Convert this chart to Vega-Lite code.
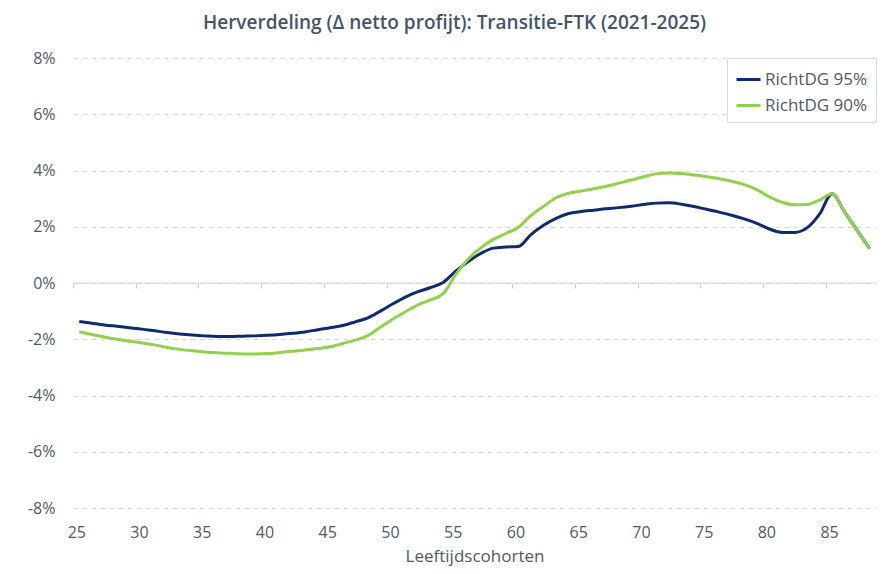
{
  "$schema": "https://vega.github.io/schema/vega-lite/v6.json",
  "width": 803,
  "height": 450,
  "autosize": {"type": "none"},
  "padding": {"left": 73, "top": 58, "right": 16, "bottom": 66},
  "background": "white",
  "config": {
    "font": "Open Sans",
    "view": {"stroke": null}
  },
  "title": {
    "text": "Herverdeling (Δ netto profijt): Transitie-FTK (2021-2025)",
    "fontSize": 19,
    "fontWeight": 600,
    "color": "#44546a",
    "anchor": "middle",
    "dx": -20,
    "offset": 17
  },
  "datasets": {
    "series": [
      {"age":25,"serie":"RichtDG 95%","v":-1.37},{"age":26,"serie":"RichtDG 95%","v":-1.43},{"age":27,"serie":"RichtDG 95%","v":-1.49},{"age":28,"serie":"RichtDG 95%","v":-1.54},{"age":29,"serie":"RichtDG 95%","v":-1.59},{"age":30,"serie":"RichtDG 95%","v":-1.64},{"age":31,"serie":"RichtDG 95%","v":-1.70},{"age":32,"serie":"RichtDG 95%","v":-1.76},{"age":33,"serie":"RichtDG 95%","v":-1.81},{"age":34,"serie":"RichtDG 95%","v":-1.85},{"age":35,"serie":"RichtDG 95%","v":-1.88},{"age":36,"serie":"RichtDG 95%","v":-1.90},{"age":37,"serie":"RichtDG 95%","v":-1.90},{"age":38,"serie":"RichtDG 95%","v":-1.89},{"age":39,"serie":"RichtDG 95%","v":-1.88},{"age":40,"serie":"RichtDG 95%","v":-1.86},{"age":41,"serie":"RichtDG 95%","v":-1.83},{"age":42,"serie":"RichtDG 95%","v":-1.79},{"age":43,"serie":"RichtDG 95%","v":-1.74},{"age":44,"serie":"RichtDG 95%","v":-1.66},{"age":45,"serie":"RichtDG 95%","v":-1.59},{"age":46,"serie":"RichtDG 95%","v":-1.51},{"age":47,"serie":"RichtDG 95%","v":-1.38},{"age":48,"serie":"RichtDG 95%","v":-1.24},{"age":49,"serie":"RichtDG 95%","v":-1.00},{"age":50,"serie":"RichtDG 95%","v":-0.74},{"age":51,"serie":"RichtDG 95%","v":-0.50},{"age":52,"serie":"RichtDG 95%","v":-0.31},{"age":53,"serie":"RichtDG 95%","v":-0.16},{"age":54,"serie":"RichtDG 95%","v":0.02},{"age":55,"serie":"RichtDG 95%","v":0.42},{"age":56,"serie":"RichtDG 95%","v":0.76},{"age":57,"serie":"RichtDG 95%","v":1.05},{"age":58,"serie":"RichtDG 95%","v":1.24},{"age":59,"serie":"RichtDG 95%","v":1.28},{"age":60,"serie":"RichtDG 95%","v":1.30},{"age":61,"serie":"RichtDG 95%","v":1.72},{"age":62,"serie":"RichtDG 95%","v":2.05},{"age":63,"serie":"RichtDG 95%","v":2.30},{"age":64,"serie":"RichtDG 95%","v":2.47},{"age":65,"serie":"RichtDG 95%","v":2.54},{"age":66,"serie":"RichtDG 95%","v":2.59},{"age":67,"serie":"RichtDG 95%","v":2.64},{"age":68,"serie":"RichtDG 95%","v":2.68},{"age":69,"serie":"RichtDG 95%","v":2.73},{"age":70,"serie":"RichtDG 95%","v":2.79},{"age":71,"serie":"RichtDG 95%","v":2.84},{"age":72,"serie":"RichtDG 95%","v":2.85},{"age":73,"serie":"RichtDG 95%","v":2.80},{"age":74,"serie":"RichtDG 95%","v":2.72},{"age":75,"serie":"RichtDG 95%","v":2.62},{"age":76,"serie":"RichtDG 95%","v":2.52},{"age":77,"serie":"RichtDG 95%","v":2.41},{"age":78,"serie":"RichtDG 95%","v":2.28},{"age":79,"serie":"RichtDG 95%","v":2.12},{"age":80,"serie":"RichtDG 95%","v":1.92},{"age":81,"serie":"RichtDG 95%","v":1.80},{"age":82,"serie":"RichtDG 95%","v":1.80},{"age":83,"serie":"RichtDG 95%","v":1.96},{"age":84,"serie":"RichtDG 95%","v":2.45},{"age":85,"serie":"RichtDG 95%","v":3.17},{"age":86,"serie":"RichtDG 95%","v":2.52},{"age":87,"serie":"RichtDG 95%","v":1.87},{"age":88,"serie":"RichtDG 95%","v":1.22},
      {"age":25,"serie":"RichtDG 90%","v":-1.73},{"age":26,"serie":"RichtDG 90%","v":-1.83},{"age":27,"serie":"RichtDG 90%","v":-1.92},{"age":28,"serie":"RichtDG 90%","v":-2.00},{"age":29,"serie":"RichtDG 90%","v":-2.07},{"age":30,"serie":"RichtDG 90%","v":-2.13},{"age":31,"serie":"RichtDG 90%","v":-2.20},{"age":32,"serie":"RichtDG 90%","v":-2.29},{"age":33,"serie":"RichtDG 90%","v":-2.36},{"age":34,"serie":"RichtDG 90%","v":-2.41},{"age":35,"serie":"RichtDG 90%","v":-2.45},{"age":36,"serie":"RichtDG 90%","v":-2.48},{"age":37,"serie":"RichtDG 90%","v":-2.50},{"age":38,"serie":"RichtDG 90%","v":-2.52},{"age":39,"serie":"RichtDG 90%","v":-2.52},{"age":40,"serie":"RichtDG 90%","v":-2.51},{"age":41,"serie":"RichtDG 90%","v":-2.47},{"age":42,"serie":"RichtDG 90%","v":-2.43},{"age":43,"serie":"RichtDG 90%","v":-2.38},{"age":44,"serie":"RichtDG 90%","v":-2.33},{"age":45,"serie":"RichtDG 90%","v":-2.27},{"age":46,"serie":"RichtDG 90%","v":-2.15},{"age":47,"serie":"RichtDG 90%","v":-2.03},{"age":48,"serie":"RichtDG 90%","v":-1.87},{"age":49,"serie":"RichtDG 90%","v":-1.57},{"age":50,"serie":"RichtDG 90%","v":-1.28},{"age":51,"serie":"RichtDG 90%","v":-1.02},{"age":52,"serie":"RichtDG 90%","v":-0.78},{"age":53,"serie":"RichtDG 90%","v":-0.60},{"age":54,"serie":"RichtDG 90%","v":-0.38},{"age":55,"serie":"RichtDG 90%","v":0.30},{"age":56,"serie":"RichtDG 90%","v":0.85},{"age":57,"serie":"RichtDG 90%","v":1.25},{"age":58,"serie":"RichtDG 90%","v":1.55},{"age":59,"serie":"RichtDG 90%","v":1.76},{"age":60,"serie":"RichtDG 90%","v":1.98},{"age":61,"serie":"RichtDG 90%","v":2.40},{"age":62,"serie":"RichtDG 90%","v":2.72},{"age":63,"serie":"RichtDG 90%","v":3.03},{"age":64,"serie":"RichtDG 90%","v":3.19},{"age":65,"serie":"RichtDG 90%","v":3.27},{"age":66,"serie":"RichtDG 90%","v":3.35},{"age":67,"serie":"RichtDG 90%","v":3.44},{"age":68,"serie":"RichtDG 90%","v":3.55},{"age":69,"serie":"RichtDG 90%","v":3.66},{"age":70,"serie":"RichtDG 90%","v":3.78},{"age":71,"serie":"RichtDG 90%","v":3.88},{"age":72,"serie":"RichtDG 90%","v":3.91},{"age":73,"serie":"RichtDG 90%","v":3.89},{"age":74,"serie":"RichtDG 90%","v":3.84},{"age":75,"serie":"RichtDG 90%","v":3.78},{"age":76,"serie":"RichtDG 90%","v":3.71},{"age":77,"serie":"RichtDG 90%","v":3.62},{"age":78,"serie":"RichtDG 90%","v":3.50},{"age":79,"serie":"RichtDG 90%","v":3.32},{"age":80,"serie":"RichtDG 90%","v":3.06},{"age":81,"serie":"RichtDG 90%","v":2.87},{"age":82,"serie":"RichtDG 90%","v":2.78},{"age":83,"serie":"RichtDG 90%","v":2.79},{"age":84,"serie":"RichtDG 90%","v":2.95},{"age":85,"serie":"RichtDG 90%","v":3.17},{"age":86,"serie":"RichtDG 90%","v":2.52},{"age":87,"serie":"RichtDG 90%","v":1.87},{"age":88,"serie":"RichtDG 90%","v":1.22}
    ],
    "axisline": [{"from": 24.5, "to": 88.5, "level": 0}]
  },
  "resolve": {"axis": {"x": "independent"}},
  "layer": [
    {
      "data": {"name": "axisline"},
      "mark": {"type": "rule", "color": "#d9d9d9", "strokeWidth": 1},
      "encoding": {
        "x": {
          "field": "from", "type": "quantitative",
          "scale": {"domain": [24.5, 88.5], "nice": false, "zero": false},
          "axis": {
            "orient": "bottom", "offset": -225, "values": [24.5, 29.5, 34.5, 39.5, 44.5, 49.5, 54.5, 59.5, 64.5, 69.5, 74.5, 79.5, 84.5],
            "labels": false, "ticks": true, "tickSize": 5, "tickColor": "#d0d0d0", "tickWidth": 1,
            "domain": false, "grid": false, "title": null
          }
        },
        "x2": {"field": "to"},
        "y": {"field": "level", "type": "quantitative"}
      }
    },
    {
      "data": {"name": "series"},
      "mark": {"type": "line", "interpolate": "monotone", "strokeWidth": 3},
      "encoding": {
        "x": {
          "field": "age", "type": "quantitative",
          "scale": {"domain": [24.5, 88.5], "nice": false, "zero": false},
          "axis": {
            "orient": "bottom",
            "values": [25, 30, 35, 40, 45, 50, 55, 60, 65, 70, 75, 80, 85],
            "ticks": false, "tickSize": 0, "domain": false, "grid": false,
            "labelPadding": 16, "labelOffset": -3, "labelFontSize": 16, "labelColor": "#4e5a6a",
            "title": "Leeftijdscohorten", "titleFontSize": 17, "titleFontWeight": "normal", "titleColor": "#4e5a6a", "titlePadding": 8
          }
        },
        "y": {
          "field": "v", "type": "quantitative",
          "scale": {"domain": [-8, 8], "nice": false},
          "axis": {
            "values": [-8, -6, -4, -2, 0, 2, 4, 6, 8],
            "labelExpr": "datum.value + '%'",
            "ticks": false, "domain": false,
            "grid": true, "gridColor": "#d9d9d9", "gridDash": [5, 4], "gridWidth": 1,
            "labelPadding": 18, "labelFontSize": 16, "labelColor": "#4e5a6a",
            "title": null
          }
        },
        "color": {
          "field": "serie", "type": "nominal",
          "scale": {"domain": ["RichtDG 95%", "RichtDG 90%"], "range": ["#0e2b6b", "#92d050"]},
          "legend": {
            "title": null, "orient": "top-right", "offset": 0,
            "padding": 8, "strokeColor": "#d9d9d9", "fillColor": "white",
            "symbolType": "stroke", "symbolStrokeWidth": 3, "symbolSize": 576,
            "labelFontSize": 17, "labelColor": "#4e5a6a", "labelOffset": 3, "rowPadding": 4
          }
        }
      }
    }
  ]
}
